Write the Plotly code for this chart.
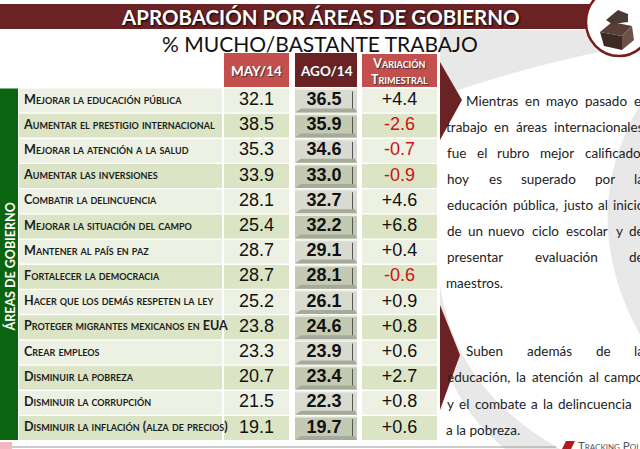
import plotly.graph_objects as go

# ---------------- data ----------------
areas = [
    "Mejorar la educación pública",
    "Aumentar el prestigio internacional",
    "Mejorar la atención a la salud",
    "Aumentar las inversiones",
    "Combatir la delincuencia",
    "Mejorar la situación del campo",
    "Mantener al país en paz",
    "Fortalecer la democracia",
    "Hacer que los demás respeten la ley",
    "Proteger migrantes mexicanos en EUA",
    "Crear empleos",
    "Disminuir la pobreza",
    "Disminuir la corrupción",
    "Disminuir la inflación (alza de precios)",
]
may14 = [32.1, 38.5, 35.3, 33.9, 28.1, 25.4, 28.7, 28.7, 25.2, 23.8, 23.3, 20.7, 21.5, 19.1]
ago14 = [36.5, 35.9, 34.6, 33.0, 32.7, 32.2, 29.1, 28.1, 26.1, 24.6, 23.9, 23.4, 22.3, 19.7]
variacion = [4.4, -2.6, -0.7, -0.9, 4.6, 6.8, 0.4, -0.6, 0.9, 0.8, 0.6, 2.7, 0.8, 0.6]
col_headers = ["MAY/14", "AGO/14", "Variación<br>Trimestral"]
title_text = "APROBACIÓN POR ÁREAS DE GOBIERNO"
subtitle_text = "% MUCHO/BASTANTE TRABAJO"
side_label = "ÁREAS DE GOBIERNO"
para1 = [
    "Mientras en mayo pasado el",
    "trabajo en áreas internacionales",
    "fue el rubro mejor calificado,",
    "hoy es superado por la",
    "educación pública, justo al inicio",
    "de un nuevo ciclo escolar y de",
    "presentar evaluación de",
    "maestros.",
]
para2 = [
    "Suben además de la",
    "educación, la atención al campo",
    "y el combate a la delincuencia y",
    "a la pobreza.",
]

# ---------------- layout geometry ----------------
W, H = 640, 449
TOP, PITCH, GAP = 88.5, 25.2, 1.3
LBL = (19, 222)
MAYC = (224, 289)
AGOC = (295, 357)
VARC = (362, 437)
n = len(areas)
row_y0 = [TOP + i * PITCH for i in range(n)]
row_y1 = [y + PITCH - GAP for y in row_y0]
row_c = [(a + b) / 2 for a, b in zip(row_y0, row_y1)]

LIGHT = "#edf1e3"
GREEN = "#dbe5c6"
AGO_L = "#d9dbd0"
AGO_G = "#c4cab1"
MAROON = "#6b2224"
RED = "#c4504e"

shapes = []


def rect(x0, y0, x1, y1, fill, layer="below"):
    shapes.append(dict(type="rect", xref="x", yref="y", x0=x0, y0=y0, x1=x1, y1=y1,
                       fillcolor=fill, layer=layer, line=dict(width=0)))


def path(p, fill, layer="below"):
    shapes.append(dict(type="path", xref="x", yref="y", path=p, fillcolor=fill,
                       layer=layer, line=dict(width=0)))


# background swoosh (light gray)
SW = "#e8e8e8"
path("M 440,30 L 640,30 L 640,44 Q 540,62 452,92 L 440,92 Z", SW)
path("M 640,105 Q 575,215 640,335 Z", SW)
path("M 440,285 Q 455,390 560,449 L 505,449 Q 445,400 440,330 Z", SW)

# title banner
rect(0, 4, 600, 29, MAROON)

# headers
rect(MAYC[0], 53, MAYC[1], 87, RED)
rect(AGOC[0], 53, AGOC[1], 87, MAROON)
rect(VARC[0], 54, VARC[1], 87, RED)

# rows
for i in range(n):
    y0, y1 = row_y0[i], row_y1[i]
    base = LIGHT if i % 2 == 0 else GREEN
    rect(LBL[0], y0, LBL[1], y1, base)
    rect(MAYC[0], y0, MAYC[1], y1, base)
    rect(VARC[0], y0, VARC[1], y1, base)
    ab = AGO_L if i % 2 == 0 else AGO_G
    rect(AGOC[0], y0, AGOC[1], y1, ab)
    path(f"M {AGOC[0]},{y1} L {AGOC[0]+6},{y1-4} L {AGOC[1]-2},{y1-4} L {AGOC[1]},{y1} Z",
         "#a6aa98")
    rect(AGOC[0], y0, AGOC[1], y0 + 1.5, "#eeefe9")
    rect(AGOC[1] - 5, y0 + 3, AGOC[1] - 4, y1 - 4, "#555555")

# green side band
rect(0, TOP, 18, row_y1[-1], "#0b6510")

# arrows
path("M 440,62 L 462,100 L 440,140 Z", MAROON)
path("M 440,305 L 460,355 L 440,410 Z", MAROON)

# top-right icon
shapes.append(dict(type="circle", xref="x", yref="y", x0=586, y0=-12, x1=652, y1=56,
                   fillcolor="#ffffff", line=dict(color="#7a1c1e", width=2.5), layer="above"))
path("M 600,32 L 612,22 L 632,26 L 622,36 Z", "#5a3f37", layer="above")
path("M 600,32 L 622,36 L 622,50 L 604,46 Z", "#3e2a24", layer="above")
path("M 622,36 L 632,26 L 634,40 L 622,50 Z", "#6d5047", layer="above")
path("M 606,20 L 618,10 L 628,14 L 628,22 L 612,24 Z", "#4a3a35", layer="above")

# bottom line & small elements
rect(0, 446.5, 556, 447.5, "#9a9a9a")
rect(0, 442, 12, 449, "#f2b8bd")
path("M 562,449 L 566,441 L 575,441 L 571,449 Z", "#b01c22", layer="above")

fig = go.Figure()

LABEL_FONT = dict(family="Lato", size=12.6, color="#1d1d1d", weight="bold", variant="small-caps")
NUM_FONT = dict(family="Liberation Sans, Arial", size=18, color="#111111")

fig.add_trace(go.Scatter(
    x=[24] * n, y=row_c, mode="text", text=areas, textposition="middle right",
    textfont=LABEL_FONT, hoverinfo="skip", showlegend=False))

fig.add_trace(go.Scatter(
    x=[(MAYC[0] + MAYC[1]) / 2] * n, y=row_c, mode="text",
    text=[f"{v:.1f}" for v in may14], textposition="middle center",
    textfont=NUM_FONT, hoverinfo="skip", showlegend=False))

fig.add_trace(go.Scatter(
    x=[(AGOC[0] + AGOC[1]) / 2 - 2] * n, y=row_c, mode="text",
    text=[f"{v:.1f}" for v in ago14], textposition="middle center",
    textfont=dict(family="Liberation Sans, Arial", size=18, color="#111111", weight="bold"),
    hoverinfo="skip", showlegend=False))

fig.add_trace(go.Scatter(
    x=[(VARC[0] + VARC[1]) / 2] * n, y=row_c, mode="text",
    text=[f"{v:+.1f}" for v in variacion], textposition="middle center",
    textfont=dict(family="Liberation Sans, Arial", size=18,
                  color=["#cc1111" if v < 0 else "#111111" for v in variacion]),
    hoverinfo="skip", showlegend=False))

annotations = []


def ann(x, y, text, font, xanchor="center", yanchor="middle", **kw):
    annotations.append(dict(x=x, y=y, xref="x", yref="y", text=text, showarrow=False,
                            font=font, xanchor=xanchor, yanchor=yanchor, **kw))


ann(320, 16.5, title_text, dict(family="Lato", size=20.5, color="#ffffff", weight="bold",
                                shadow="1px 1px 2px #000000"))
ann(320, 43, subtitle_text, dict(family="Lato", size=21, color="#111111"))

HDR = dict(family="Lato", size=13.5, color="#ffffff", weight="bold", shadow="1px 1px 1px #333")
ann((MAYC[0] + MAYC[1]) / 2, 71, col_headers[0], HDR)
ann((AGOC[0] + AGOC[1]) / 2, 71, col_headers[1], HDR)
ann((VARC[0] + VARC[1]) / 2, 71, col_headers[2],
    dict(family="Lato", size=12.5, color="#ffffff", weight="bold", variant="small-caps",
         shadow="1px 1px 1px #333"))

ann(9.5, 267, side_label, dict(family="Lato", size=12.5, color="#ffffff", weight="bold"),
    textangle=-90)

PF_SIZE = 13.5
PF = dict(family="Lato", size=PF_SIZE, color="#222222")
LEFT, RIGHT = 447, 644


def est_width(word):
    w = 0.0
    for ch in word:
        if ch in "iljí":
            w += 0.23
        elif ch in "ftr":
            w += 0.33
        elif ch in ",.":
            w += 0.2
        elif ch in "mw":
            w += 0.8
        elif ch == "M":
            w += 0.87
        elif ch.isupper():
            w += 0.62
        else:
            w += 0.53
    return w * PF_SIZE


def place_para(lines, y_start, spacing, first_indent):
    for k, line in enumerate(lines):
        y = y_start + k * spacing
        x0 = LEFT + (first_indent if k == 0 else 0)
        words = line.split(" ")
        if k == len(lines) - 1 or len(words) == 1:
            ann(x0 - 3, y, line, PF, xanchor="left")
            continue
        widths = [est_width(w) for w in words]
        gap = (RIGHT - x0 - sum(widths)) / (len(words) - 1)
        x = x0
        for w, wd in zip(words, widths):
            ann(x + wd / 2, y, w, PF, xanchor="center")
            x += wd + gap


place_para(para1, 101, 26, 19)
place_para(para2, 351, 26.3, 19)

ann(576, 445, "Tracking Poll", dict(family="Lato", size=11.5, color="#555555",
                                    variant="small-caps"), xanchor="left")

fig.update_layout(
    width=W, height=H, margin=dict(l=0, r=0, t=0, b=0),
    paper_bgcolor="#ffffff", plot_bgcolor="#ffffff",
    xaxis=dict(range=[0, W], visible=False, fixedrange=True),
    yaxis=dict(range=[H, 0], visible=False, fixedrange=True),
    shapes=shapes, annotations=annotations, showlegend=False,
)

fig.write_html("out.html", config={"displayModeBar": False},
               post_script="document.body.style.margin='0';")
